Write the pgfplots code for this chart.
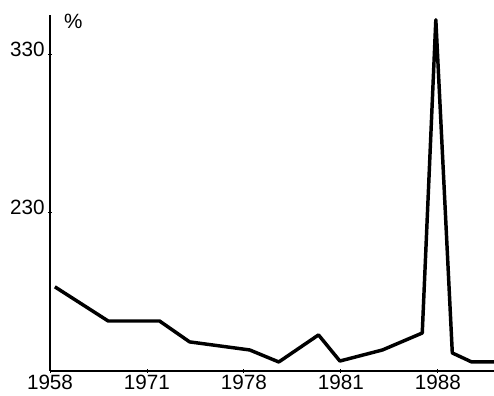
\documentclass[border=0pt]{standalone}
\usepackage{fontspec}
\setmainfont{Liberation Sans}
\usepackage{pgfplots}
\pgfplotsset{compat=1.18}

\begin{document}
\begin{tikzpicture}[x=0.75pt,y=0.75pt]
\begin{axis}[
    scale only axis,
    width=333pt, height=267pt,
    axis x line=bottom, axis y line=left,
    axis line style={-, line width=0.8pt},
    xmin=0, xmax=4.58,
    ymin=130, ymax=355,
    xtick={0,1,2,3,4},
    xticklabels={1958,1971,1978,1981,1988},
    ytick={230,330},
    yticklabels={230,330},
    major tick length=3pt,
    tick style={black, line width=0.6pt},
    tick label style={font=\fontsize{15.5}{16}\selectfont},
    xticklabel style={yshift=2pt},
    yticklabel style={xshift=1pt, yshift=4pt},
    /pgf/number format/assume math mode=true,
    clip=false,
]
\addplot[black, line width=2.6pt, line join=round] coordinates {
(0.05,183.2)
(0.60,161.6)
(1.13,161.6)
(1.44,148.4)
(2.06,143.3)
(2.36,135.7)
(2.77,152.8)
(2.99,136.3)
(3.43,143.3)
(3.84,154.0)
(3.98,352.0)
(4.15,141.4)
(4.35,135.7)
(4.58,135.7)
};
\node[font=\fontsize{15.5}{16}\selectfont] at (axis cs:0.24,351) {\%};
\end{axis}
\pgfresetboundingbox
\path[use as bounding box] (current axis.south west) ++(-37.5pt,-18.75pt) rectangle ++(370.5pt,297pt);
\end{tikzpicture}
\end{document}
